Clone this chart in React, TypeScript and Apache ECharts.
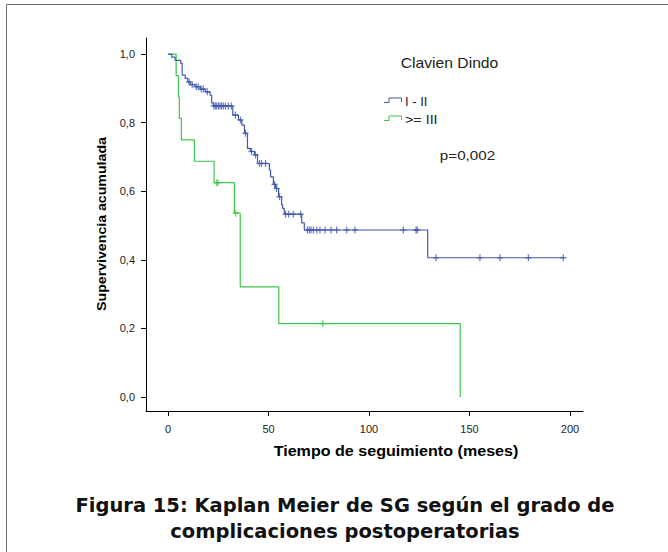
import React, { useEffect, useRef } from "react";
import * as echarts from "echarts";

// ---- data ----
const xTicks = [0, 50, 100, 150, 200];
const yTicks = [0, 0.2, 0.4, 0.6, 0.8, 1.0];
const legendTitle = "Clavien Dindo";
const groupNames = ["I - II", ">= III"];
const pValueText = "p=0,002";
const xTitle = "Tiempo de seguimiento (meses)";
const yTitle = "Supervivencia acumulada";
const captionLines = [
  "Figura 15: Kaplan Meier de SG según el grado de",
  "complicaciones postoperatorias",
];

// Group I - II (blue): event times and survival after each event
const blueTimes = [0, 1.8, 3.5, 6.3, 7.0, 8.5, 9.8, 11.0, 13.5, 16.0, 18.5, 20.9, 21.7, 22.5, 32.2, 35.0, 36.7, 38.0, 39.5, 41.0, 43.0, 44.5, 50.4, 51.0, 52.4, 53.5, 55.0, 56.5, 57.0, 57.8, 66.5, 67.8, 129.2];
const blueSurv = [1.0, 0.991, 0.982, 0.973, 0.939, 0.929, 0.919, 0.911, 0.905, 0.898, 0.89, 0.88, 0.858, 0.849, 0.822, 0.808, 0.793, 0.769, 0.725, 0.716, 0.706, 0.681, 0.662, 0.642, 0.62, 0.608, 0.584, 0.56, 0.55, 0.533, 0.508, 0.487, 0.406];
const blueCensor = [10.5, 12.0, 14.0, 15.0, 16.5, 17.5, 19.5, 22.8, 23.5, 24.2, 25.0, 25.8, 26.6, 27.5, 28.5, 30.0, 31.5, 33.5, 36.0, 38.5, 41.5, 43.5, 45.5, 46.5, 48.5, 53.0, 54.0, 55.5, 58.5, 60.0, 62.3, 66.0, 69.3, 70.3, 71.1, 72.3, 74.0, 75.6, 78.1, 81.1, 83.9, 88.9, 93.0, 117.1, 123.4, 124.0, 133.3, 155.2, 165.2, 179.3, 196.7];

// Group >= III (green)
const greenTimes = [0, 4.0, 5.1, 5.6, 6.6, 13.1, 22.9, 33.0, 35.9, 55.1, 145.4];
const greenSurv = [1.0, 0.9375, 0.875, 0.8125, 0.75, 0.6875, 0.625, 0.536, 0.321, 0.214, 0.0];
const greenCensor = [24.2, 24.8, 33.7, 77.0];

const BLUE = "#4059b0";
const GREEN = "#3ec64c";

function survAt(times: number[], surv: number[], t: number) {
  let s = surv[0];
  for (let i = 0; i < times.length; i++) if (times[i] <= t) s = surv[i];
  return s;
}

function stepData(times: number[], surv: number[], censor: number[]) {
  const d: number[][] = times.map((t, i) => [t, surv[i]]);
  const lastC = censor[censor.length - 1];
  if (lastC > times[times.length - 1]) d.push([lastC, surv[surv.length - 1]]);
  return d;
}

function censorData(times: number[], surv: number[], censor: number[]) {
  return censor.map((t) => [t, survAt(times, surv, t)]);
}

export default function App() {
  const ref = useRef<HTMLDivElement>(null);
  useEffect(() => {
    document.body.style.margin = "0";
    const chart = echarts.init(ref.current!, undefined, { renderer: "svg" });
    const fmt = (v: number) => v.toFixed(1).replace(".", ",");
    const censorSeries = (data: number[][], color: string) => [
      {
        type: "scatter",
        data,
        symbol: "rect",
        symbolSize: [1.2, 7],
        itemStyle: { color },
        silent: true,
        z: 4,
      },
      {
        type: "scatter",
        data,
        symbol: "rect",
        symbolSize: [6, 1.4],
        itemStyle: { color },
        silent: true,
        z: 4,
      },
    ];
    const font = "Liberation Sans, Arial, sans-serif";
    const capFont = `bold 19px "DejaVu Sans Condensed", "DejaVu Sans", sans-serif`;
    chart.setOption({
      animation: false,
      backgroundColor: "#ffffff",
      grid: { left: 146, top: 38, width: 437, height: 373, containLabel: false },
      xAxis: {
        type: "value",
        min: -11,
        max: 206.5,
        splitLine: { show: false },
        axisLine: { show: true, onZero: false, lineStyle: { color: "#000", width: 1 } },
        axisTick: { show: true, customValues: xTicks, length: 5, lineStyle: { color: "#000" } },
        axisLabel: {
          customValues: xTicks,
          margin: 12,
          fontSize: 11,
          color: "#222",
          fontFamily: font,
        },
      },
      yAxis: {
        type: "value",
        min: -0.041,
        max: 1.047,
        splitLine: { show: false },
        axisLine: { show: true, onZero: false, lineStyle: { color: "#000", width: 1 } },
        axisTick: { show: true, customValues: yTicks, length: 5, lineStyle: { color: "#000" } },
        axisLabel: {
          customValues: yTicks,
          margin: 11,
          fontSize: 11,
          color: "#222",
          fontFamily: font,
          formatter: (v: number) => fmt(v),
        },
      },
      series: [
        {
          type: "line",
          step: "end",
          data: stepData(greenTimes, greenSurv, greenCensor),
          symbol: "none",
          lineStyle: { color: GREEN, width: 1.2 },
          z: 3,
        },
        {
          type: "line",
          step: "end",
          data: stepData(blueTimes, blueSurv, blueCensor),
          symbol: "none",
          lineStyle: { color: BLUE, width: 1.2 },
          z: 3,
        },
        ...censorSeries(censorData(greenTimes, greenSurv, greenCensor), GREEN),
        ...censorSeries(censorData(blueTimes, blueSurv, blueCensor), BLUE),
      ],
      graphic: [
        {
          type: "rect",
          shape: { x: 6.5, y: 4.5, width: 720, height: 620 },
          style: { fill: "none", stroke: "#6e6e6e", lineWidth: 1 },
          silent: true,
        },
        {
          type: "text",
          x: 102,
          y: 224,
          rotation: Math.PI / 2,
          scaleX: 1.09,
          style: {
            text: yTitle,
            font: `bold 13px ${font}`,
            fill: "#000",
            align: "center",
            verticalAlign: "middle",
          },
        },
        {
          type: "text",
          x: 396,
          y: 451,
          scaleX: 1.15,
          style: {
            text: xTitle,
            font: `bold 14px ${font}`,
            fill: "#000",
            align: "center",
            verticalAlign: "middle",
          },
        },
        {
          type: "text",
          x: 449.5,
          y: 63,
          scaleX: 1.12,
          style: {
            text: legendTitle,
            font: `14px ${font}`,
            fill: "#222",
            align: "center",
            verticalAlign: "middle",
          },
        },
        {
          type: "polyline",
          shape: { points: [[384, 102.5], [389, 102.5], [389, 98], [401.5, 98], [401.5, 102]] },
          style: { stroke: BLUE, lineWidth: 1, fill: "none" },
        },
        {
          type: "text",
          x: 405,
          y: 101,
          style: { text: groupNames[0], font: `13px ${font}`, fill: "#222", verticalAlign: "middle" },
        },
        {
          type: "polyline",
          shape: { points: [[384, 120.5], [389, 120.5], [389, 116], [401.5, 116], [401.5, 120]] },
          style: { stroke: GREEN, lineWidth: 1, fill: "none" },
        },
        {
          type: "text",
          x: 405,
          y: 120,
          scaleX: 1.1,
          style: { text: groupNames[1], font: `13px ${font}`, fill: "#222", verticalAlign: "middle" },
        },
        {
          type: "text",
          x: 467.5,
          y: 155,
          scaleX: 1.17,
          style: {
            text: pValueText,
            font: `13px ${font}`,
            fill: "#222",
            align: "center",
            verticalAlign: "middle",
          },
        },
        {
          type: "text",
          x: 345,
          y: 505,
          scaleX: 1.14,
          style: {
            text: captionLines[0],
            font: capFont,
            fill: "#111",
            align: "center",
            verticalAlign: "middle",
          },
        },
        {
          type: "text",
          x: 345,
          y: 531,
          scaleX: 1.14,
          style: {
            text: captionLines[1],
            font: capFont,
            fill: "#111",
            align: "center",
            verticalAlign: "middle",
          },
        },
      ],
    });
    return () => chart.dispose();
  }, []);
  return <div ref={ref} style={{ width: 668, height: 552 }} />;
}
